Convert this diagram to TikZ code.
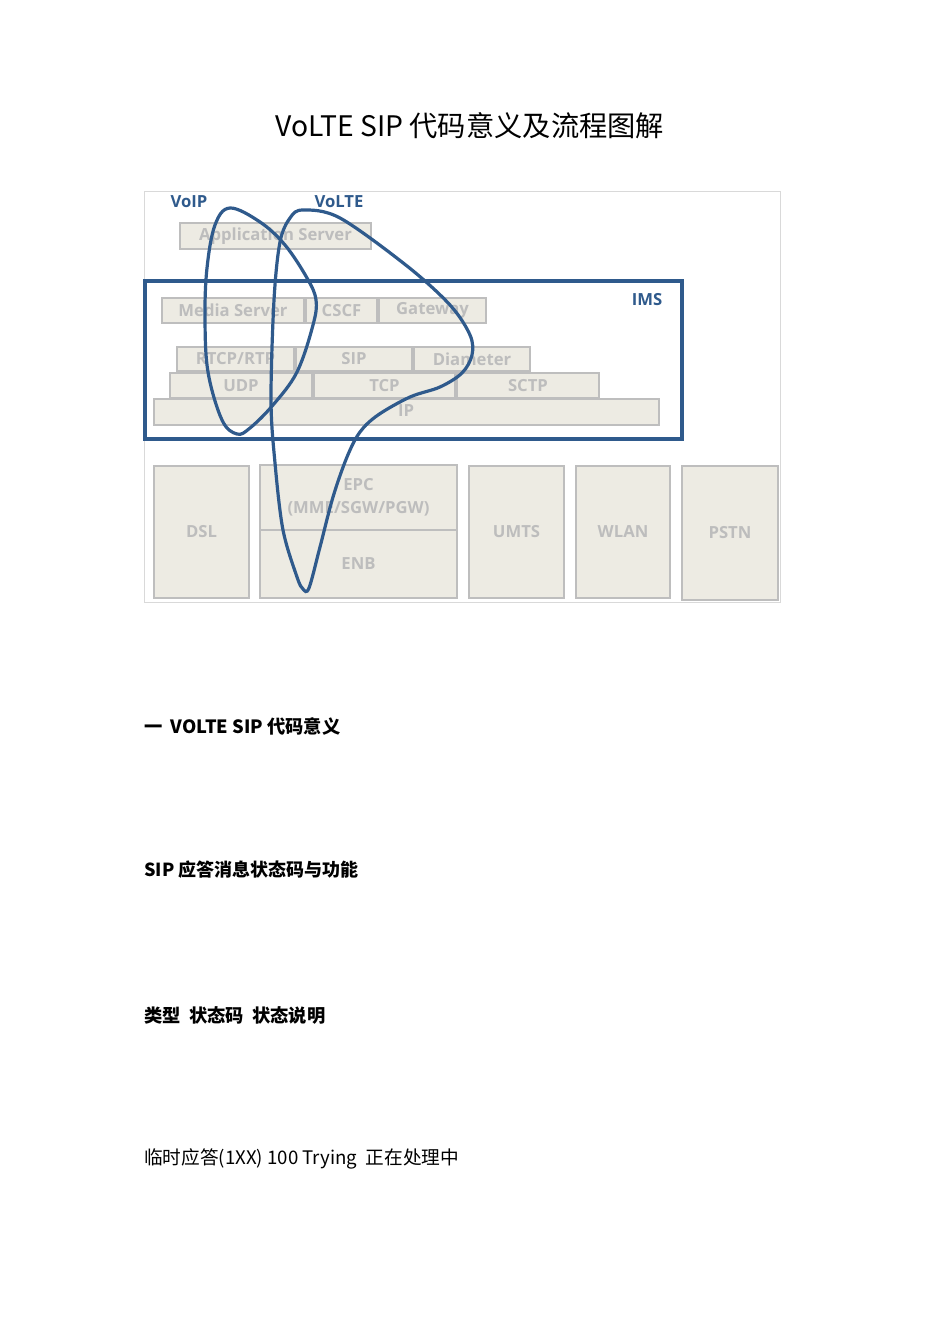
\documentclass[tikz,border=0pt]{standalone}
\usepackage{fontspec}
\setmainfont{Noto Sans CJK SC}
\newfontfamily\lbl{Open Sans}
\definecolor{volteblue}{HTML}{2F5A8C}
\definecolor{boxfill}{HTML}{EDEBE3}
\definecolor{boxline}{HTML}{BEBEBE}
\definecolor{boxtext}{HTML}{BDBDBD}
\tikzset{
  blkbox/.style={draw=boxline, fill=boxfill, line width=2.2pt},
  blktext/.style={text=boxtext, font=\lbl\bfseries\fontsize{12.5}{17}\selectfont, inner sep=0pt, align=center},
  bluelbl/.style={text=volteblue, font=\lbl\bfseries\fontsize{12.5}{14}\selectfont, inner sep=0pt},
  loop/.style={draw=volteblue, line width=2.4pt},
  para/.style={anchor=west, inner sep=0pt, font=\fontsize{14}{16}\selectfont}
}
\newcommand\blk[6]{\draw[blkbox] (#2,#3) rectangle (#4,#5); \node[blktext] (#1) at ({(#2+#4)/2},{(#3+#5)/2}) {#6};}
\begin{document}
\begin{tikzpicture}[x=0.75pt,y=-0.75pt]
\useasboundingbox (0,0) rectangle (950,1344);
\fill[white] (0,0) rectangle (950,1344);
\node[font=\fontsize{21.2}{25}\selectfont, inner sep=0pt] (title) at (470,126) {VoLTE SIP 代码意义及流程图解};
% frame
\draw[draw=black!15, line width=0.75pt] (144,192) rectangle (780,602);
\node[bluelbl] (voip) at (189,202) {VoIP};
\node[bluelbl] (volte) at (339,202) {VoLTE};
\blk{appsrv}{180}{223}{371}{249}{Application Server}
% IMS
\draw[draw=volteblue, line width=2.3pt] (145,281) rectangle (682,439);
\node[bluelbl] (ims) at (647,300) {IMS};
\blk{media}{162}{298}{304}{323}{Media Server}
\blk{cscf}{306}{298}{377}{323}{CSCF}
\blk{gw}{379}{298}{486}{323}{Gateway}
\blk{rtp}{177}{347}{294}{371}{RTCP/RTP}
\blk{sip}{296}{347}{412}{371}{SIP}
\blk{diam}{414}{347}{530}{371}{Diameter}
\blk{udp}{170}{373}{312}{398}{UDP}
\blk{tcp}{314}{373}{455}{398}{TCP}
\blk{sctp}{457}{373}{599}{398}{SCTP}
\blk{ip}{154}{399}{659}{425}{}
\node[blktext] (iplbl) at (406,411) {IP};
% access
\blk{dsl}{154}{466}{249}{598}{DSL}
\blk{epc}{260}{465}{457}{530}{EPC\\(MME/SGW/PGW)}
\blk{enb}{260}{530}{457}{598}{ENB}
\blk{umts}{469}{466}{564}{598}{UMTS}
\blk{wlan}{576}{466}{670}{598}{WLAN}
\blk{pstn}{682}{466}{778}{600}{PSTN}
% loops
\draw[loop] plot[smooth cycle, tension=0.6] coordinates {(230,208) (260,222) (285,245) (307,278) (316,300) (313,325) (297,372) (273,405) (250,428) (237,434) (222,420) (208,372) (205,318) (207,268) (215,225)};
\draw[loop] plot[smooth cycle, tension=0.55] coordinates {(303,210) (340,218) (407,266) (450,305) (470,335) (472,355) (462,373) (440,387) (410,397) (378,415) (360,432) (347,457) (333,497) (320,547) (309,588) (303,589) (297,577) (283,530) (275,463) (271,400) (274,300) (280,242) (290,218)};
% text
\node[para, font=\bfseries\fontsize{13.7}{16}\selectfont] (h1) at (144,726) {一\ \ VOLTE SIP 代码意义};
\node[para, font=\bfseries\fontsize{13.5}{16}\selectfont] (h2) at (144,870) {SIP 应答消息状态码与功能};
\node[para, font=\bfseries\fontsize{13.7}{16}\selectfont] (h3) at (144,1015) {类型\ \ 状态码\ \ 状态说明};
\node[para] (p1) at (144,1159) {临时应答(1XX) 100 Trying\ \ 正在处理中};
\end{tikzpicture}
\end{document}
